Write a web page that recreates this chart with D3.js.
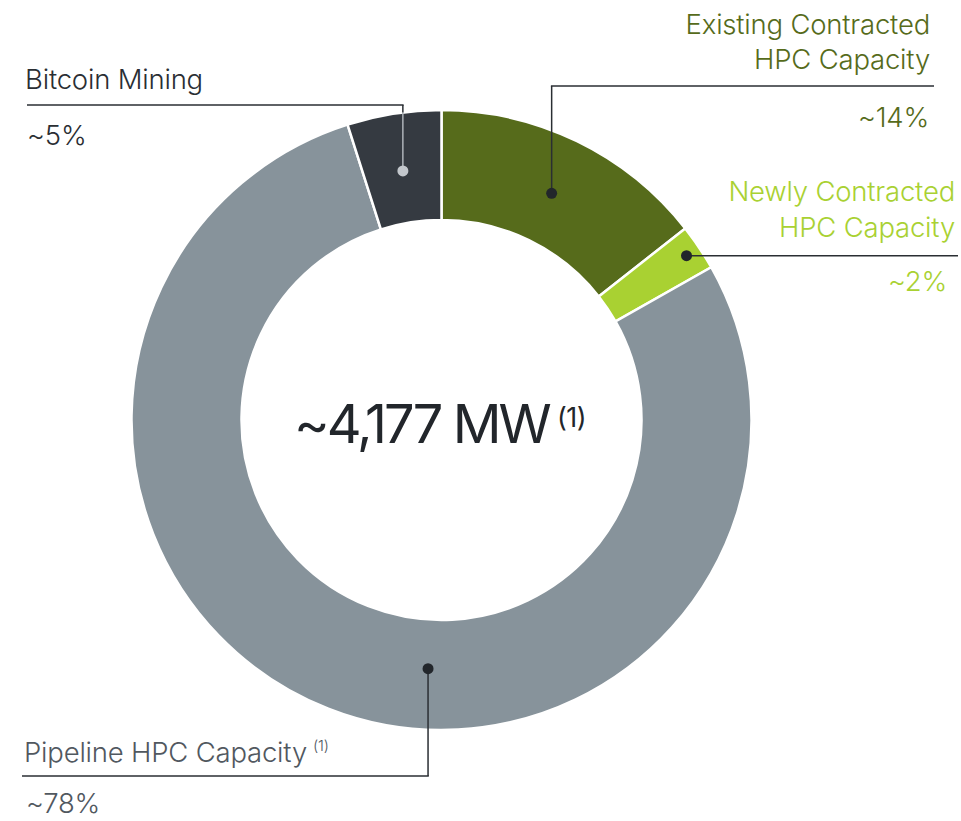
<!DOCTYPE html>
<html>
<head>
<meta charset="utf-8">
<script src="https://cdn.jsdelivr.net/npm/d3@7"></script>
<style>
  html, body { margin: 0; padding: 0; background: #ffffff; }
  svg { display: block; font-family: Inter, "Noto Sans", sans-serif; }
</style>
</head>
<body>
<svg id="chart" width="961" height="821"></svg>
<script>
// ---- data ----
const categories = ["Existing Contracted HPC Capacity", "Newly Contracted HPC Capacity", "Pipeline HPC Capacity", "Bitcoin Mining"];
const labelLines = [["Existing Contracted", "HPC Capacity"], ["Newly Contracted", "HPC Capacity"], ["Pipeline HPC Capacity"], ["Bitcoin Mining"]];
const values = [14.4, 2.4, 78.3, 4.9];
const pctLabels = ["~14%", "~2%", "~78%", "~5%"];
const footnotes = ["", "", "(1)", ""];
const totalLabel = "~4,177 MW";
const totalNote = "(1)";

// ---- styles / layout ----
const colors = ["#566b1b", "#a9d132", "#87939b", "#353a41"];
const textColors = ["#566b1b", "#a9d132", "#51585f", "#2a2e33"];
const dotColors = ["#22262b", "#22262b", "#22262b", "#c3c7cc"];
const cx = 441.5, cy = 420, R = 310, r0 = 200;
// where the marker sits inside each slice (fraction of the slice angle, radius)
const anchorFrac = [0.5, 0.5, 0.435, 0.5];
const anchorRad = [252, 295, 249, 252];

const svg = d3.select("#chart");
const g = svg.append("g").attr("transform", `translate(${cx},${cy})`);

const pie = d3.pie().sort(null).value(d => d)(values);
const arc = d3.arc().innerRadius(r0).outerRadius(R);

g.selectAll("path.slice")
  .data(pie)
  .join("path")
  .attr("class", "slice")
  .attr("d", arc)
  .attr("fill", (d, i) => colors[i])
  .attr("stroke", "#ffffff")
  .attr("stroke-width", 2.5);

// anchor points
const anchors = pie.map((d, i) => {
  const a = d.startAngle + (d.endAngle - d.startAngle) * anchorFrac[i];
  return [cx + anchorRad[i] * Math.sin(a), cy - anchorRad[i] * Math.cos(a)];
});

// leader lines
const lineColor = "#2a2e33";
function seg(x1, y1, x2, y2, col, w) {
  svg.append("line").attr("x1", x1).attr("y1", y1).attr("x2", x2).attr("y2", y2)
    .attr("stroke", col).attr("stroke-width", w || 1.5);
}
// Existing
{
  const [x, y] = anchors[0];
  seg(x, y, x, 86, lineColor);
  seg(x - 0.75, 86, 934, 86, lineColor);
}
// Newly
{
  const [x, y] = anchors[1];
  seg(x, y, 958, y, lineColor);
}
// Pipeline
{
  const [x, y] = anchors[2];
  seg(x, y, x, 776, lineColor);
  seg(22, 776, x + 0.75, 776, lineColor);
}
// Bitcoin
{
  const [x, y] = anchors[3];
  const yEdge = cy - Math.sqrt(R * R - (x - cx) * (x - cx));
  seg(x, yEdge, x, y, "#aeb3b9");
  seg(x, 105, x, yEdge, lineColor);
  seg(27, 105, x + 0.75, 105, lineColor);
}

svg.selectAll("circle.dot")
  .data(anchors)
  .join("circle")
  .attr("class", "dot")
  .attr("cx", d => d[0])
  .attr("cy", d => d[1])
  .attr("r", 5.5)
  .attr("fill", (d, i) => dotColors[i]);

// labels
const fs = 27.5;
const labelPos = [
  { x: 930, ys: [34, 69], anchor: "end", px: 929, py: 127 },
  { x: 955, ys: [201, 237], anchor: "end", px: 947, py: 291 },
  { x: 24, ys: [762], anchor: "start", px: 26, py: 813 },
  { x: 25, ys: [89], anchor: "start", px: 27, py: 145 }
];
labelPos.forEach((p, i) => {
  labelLines[i].forEach((t, j) => {
    const txt = svg.append("text")
      .attr("x", p.x).attr("y", p.ys[j])
      .attr("text-anchor", p.anchor)
      .attr("font-size", fs)
      .attr("font-weight", 300)
      .attr("letter-spacing", -0.2)
      .attr("fill", textColors[i])
      .text(t);
    if (footnotes[i] && j === labelLines[i].length - 1) {
      txt.append("tspan").attr("x", 313).attr("font-size", 15).attr("dy", -11).text(footnotes[i]);
    }
  });
  svg.append("text")
    .attr("x", p.px).attr("y", p.py)
    .attr("text-anchor", p.anchor)
    .attr("font-size", fs)
    .attr("font-weight", 300)
    .attr("letter-spacing", -0.2)
    .attr("fill", textColors[i])
    .text(pctLabels[i]);
});

// center label
const center = svg.append("text")
  .attr("x", 294).attr("y", 443)
  .attr("text-anchor", "start")
  .attr("font-size", 54)
  .attr("font-weight", 400)
  .attr("letter-spacing", -2.9)
  .attr("fill", "#22262b");
center.append("tspan").text(totalLabel);
center.append("tspan").attr("x", 557).attr("font-size", 27).attr("letter-spacing", -0.5).attr("dy", -16).text(totalNote);
</script>
</body>
</html>
